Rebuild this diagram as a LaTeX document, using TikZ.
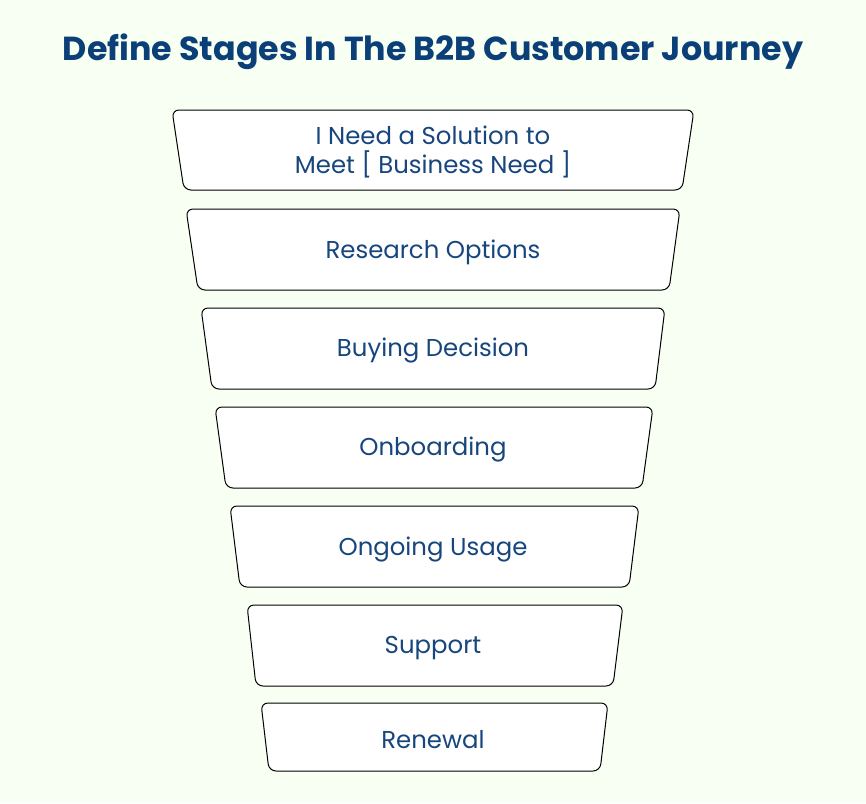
\documentclass[tikz,border=0pt]{standalone}
\usepackage{fontspec}
\setmainfont{Poppins}
\definecolor{bgc}{HTML}{F8FFF3}
\definecolor{titlec}{HTML}{0B3F78}
\definecolor{textc}{HTML}{17467E}
\tikzset{
  stage/.style={draw=black, fill=white, line width=1pt, rounded corners=7pt},
  stagetext/.style={text=textc, font=\fontsize{24.4}{29}\selectfont, align=center},
}
\begin{document}
\begin{tikzpicture}[x=1pt,y=-1pt]
\fill[bgc] (0,0) rectangle (866,803);
\useasboundingbox (0,0) rectangle (866,803);
\node[text=titlec, font=\fontsize{33.3}{37}\selectfont\bfseries] (title) at (433,52) {Define Stages In The B2B Customer Journey};
% trapezoids: top y, bottom y, top-left, top-right, bottom-left, bottom-right
\foreach \ty/\by/\tl/\tr/\bl/\br/\nm in {
  110/190/172/694/184/682/s1,
  209/290/186/680/198/669/s2,
  308/389/201/665/212/655/s3,
  407/488/215/653/226/642/s4,
  506/587/230/639/240/629/s5,
  605/686/247/623/256/613/s6,
  703/771/261/608/269/600/s7}{
  \draw[stage] (\tl,\ty) -- (\tr,\ty) -- (\br,\by) -- (\bl,\by) -- cycle;
}
\node[stagetext] (t1) at (433,152) {I Need a Solution to\\Meet [ Business Need ]};
\node[stagetext] (t2) at (433,252) {Research Options};
\node[stagetext] (t3) at (433,351) {Buying Decision};
\node[stagetext] (t4) at (433,450) {Onboarding};
\node[stagetext] (t5) at (433,549) {Ongoing Usage};
\node[stagetext] (t6) at (433,648) {Support};
\node[stagetext] (t7) at (433,740) {Renewal};
\end{tikzpicture}
\end{document}
